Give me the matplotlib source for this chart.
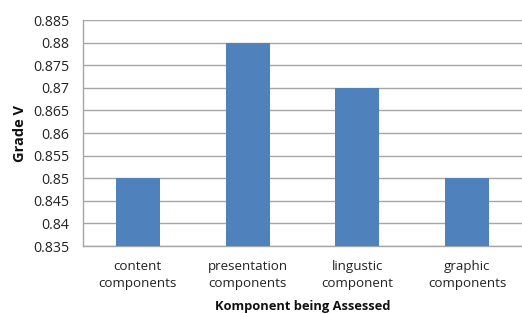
import matplotlib
matplotlib.use("Agg")
import matplotlib.pyplot as plt
import numpy as np

categories = ["content\ncomponents", "presentation\ncomponents", "lingustic\ncomponent", "graphic\ncomponents"]
values = [0.85, 0.88, 0.87, 0.85]
yticks = [0.835, 0.84, 0.845, 0.85, 0.855, 0.86, 0.865, 0.87, 0.875, 0.88, 0.885]

plt.rcParams['font.family'] = ['Open Sans', 'DejaVu Sans']

fig = plt.figure(figsize=(5.22, 3.14), dpi=100)
ax = fig.add_axes([83/522, 1-246/314, 1-83/522, (246-20)/314])

x = np.arange(len(categories))
ax.bar(x, values, width=0.4, color="#4F81BD", zorder=3)
ax.set_xlim(-0.5, len(categories)-0.5)
ax.set_ylim(0.835, 0.885)
ax.set_yticks(yticks)
ax.set_yticklabels([f"{v:g}" for v in yticks], fontsize=10.2, color="#222222")
ax.set_xticks(x)
ax.set_xticklabels(categories, fontsize=9.6, color="#222222", linespacing=1.45)
ax.tick_params(axis="y", length=0, pad=10)
ax.tick_params(axis="x", length=0, pad=10)
ax.grid(axis="y", color="#A6A6A6", linewidth=1, zorder=0)
for s in ["top", "right"]:
    ax.spines[s].set_visible(False)
for s in ["left", "bottom"]:
    ax.spines[s].set_color("#A6A6A6")
    ax.spines[s].set_linewidth(1)
ax.set_ylabel("Grade V", fontsize=10.5, fontweight="bold", labelpad=4, color="#111111")
ax.set_xlabel("Komponent being Assessed", fontsize=9.3, fontweight="bold", labelpad=7, color="#111111")

fig.savefig("out.png", dpi=100)
